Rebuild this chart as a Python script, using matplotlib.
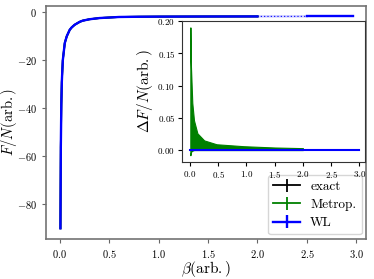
import matplotlib
matplotlib.use("Agg")
import matplotlib.pyplot as plt

plt.rcParams['font.family'] = 'serif'
plt.rcParams['font.serif'] = ['cmr10', 'DejaVu Serif']
plt.rcParams['mathtext.fontset'] = 'cm'
plt.rcParams['axes.formatter.use_mathtext'] = True
plt.rcParams['axes.unicode_minus'] = True

# free energy per site
beta = [0.006, 0.01, 0.015, 0.02, 0.03, 0.05, 0.07, 0.1, 0.12, 0.15,
        0.2, 0.23, 0.3, 0.4, 0.6, 0.8, 1.0, 1.5, 2.0]
f_exact = [-90.0, -56.0, -38.5, -29.0, -20.0, -12.8, -10.0, -7.3, -6.3, -5.2,
           -4.0, -3.5, -2.9, -2.4, -1.95, -1.85, -1.8, -1.75, -1.72]
beta_tail = [2.0, 2.05, 2.1, 2.15, 2.2, 2.25, 2.3, 2.35, 2.4, 2.45, 2.5]
f_tail = [-1.72, -1.72, -1.72, -1.71, -1.71, -1.71, -1.71, -1.71, -1.70, -1.70, -1.70]
beta_end = [2.5, 2.75, 2.97]
f_end = [-1.70, -1.70, -1.70]

# error of F/N (inset)
beta_d = [0.005, 0.006, 0.012, 0.023, 0.04, 0.07, 0.13, 0.25, 0.47, 0.95, 1.5, 2.0]
metrop_hi = [0.0, 0.19, 0.139, 0.113, 0.073, 0.046, 0.026, 0.015, 0.009, 0.006, 0.004, 0.003]
metrop_lo = [0.0, -0.008, -0.005, -0.002, -0.001, 0.0, 0.0, 0.0, 0.0, 0.0, 0.0, 0.0]
beta_wl = [0.005, 0.5, 1.0, 1.5, 2.0, 2.5, 3.0]
wl_err = [0.0, 0.0, 0.0, 0.0, 0.0, 0.0, 0.0]

fig = plt.figure(figsize=(3.74, 2.79), dpi=100)
ax = fig.add_axes([0.123, 0.143, 0.856, 0.837])

zeros = [0.0] * len(beta)
ax.errorbar(beta, f_exact, yerr=zeros, color='black', lw=1.3, label='exact')
ax.errorbar(beta, f_exact, yerr=zeros, color='green', lw=1.3, label='Metrop.')
ax.errorbar(beta, f_exact, yerr=zeros, color='blue', lw=1.7, label='WL')
ax.plot(beta_tail, f_tail, color='blue', lw=0.8, ls=(0, (1, 2)))
ax.plot(beta_tail, f_tail, color='blue', lw=1.7, alpha=0.2)
ax.plot(beta_end, f_end, color='blue', lw=1.7)

ax.set_xlim(-0.14, 3.1)
ax.set_ylim(-94.5, 2.8)
ax.set_xticks([0.0, 0.5, 1.0, 1.5, 2.0, 2.5, 3.0])
ax.set_yticks([0, -20, -40, -60, -80])
ax.tick_params(labelsize=7.5, length=3, color='0.4')
for s in ax.spines.values():
    s.set_color('0.45')
    s.set_linewidth(1.2)
ax.set_xlabel(r'$\beta(\mathrm{arb.})$', fontsize=11, labelpad=-1)
ax.set_ylabel(r'$F/N(\mathrm{arb.})$', fontsize=10.5)
ax.yaxis.set_label_coords(-0.085, 0.5)
ax.legend(loc='lower right', fontsize=9.5, handlelength=2.0,
          borderaxespad=0.35, labelspacing=0.45, framealpha=0.8)

ins = fig.add_axes([0.487, 0.419, 0.489, 0.506])
ins.fill_between(beta_d, metrop_lo, metrop_hi, color='green', lw=0.8)
ins.errorbar(beta_wl, [0.0] * len(beta_wl), yerr=wl_err, color='blue', lw=1.5)
ins.set_xlim(-0.14, 3.1)
ins.set_ylim(-0.0186, 0.2)
ins.set_xticks([0.0, 0.5, 1.0, 1.5, 2.0, 2.5, 3.0])
ins.set_yticks([0.0, 0.05, 0.10, 0.15, 0.20])
ins.yaxis.set_major_formatter(plt.FormatStrFormatter(r'$%.2f$'))
ins.xaxis.set_major_formatter(plt.FormatStrFormatter(r'$%.1f$'))
ins.tick_params(labelsize=6.5, length=3, pad=2)
for s in ins.spines.values():
    s.set_color('0.2')
ins.set_ylabel(r'$\Delta F/N(\mathrm{arb.})$', fontsize=11, labelpad=2)

fig.savefig('out.png', dpi=100)
